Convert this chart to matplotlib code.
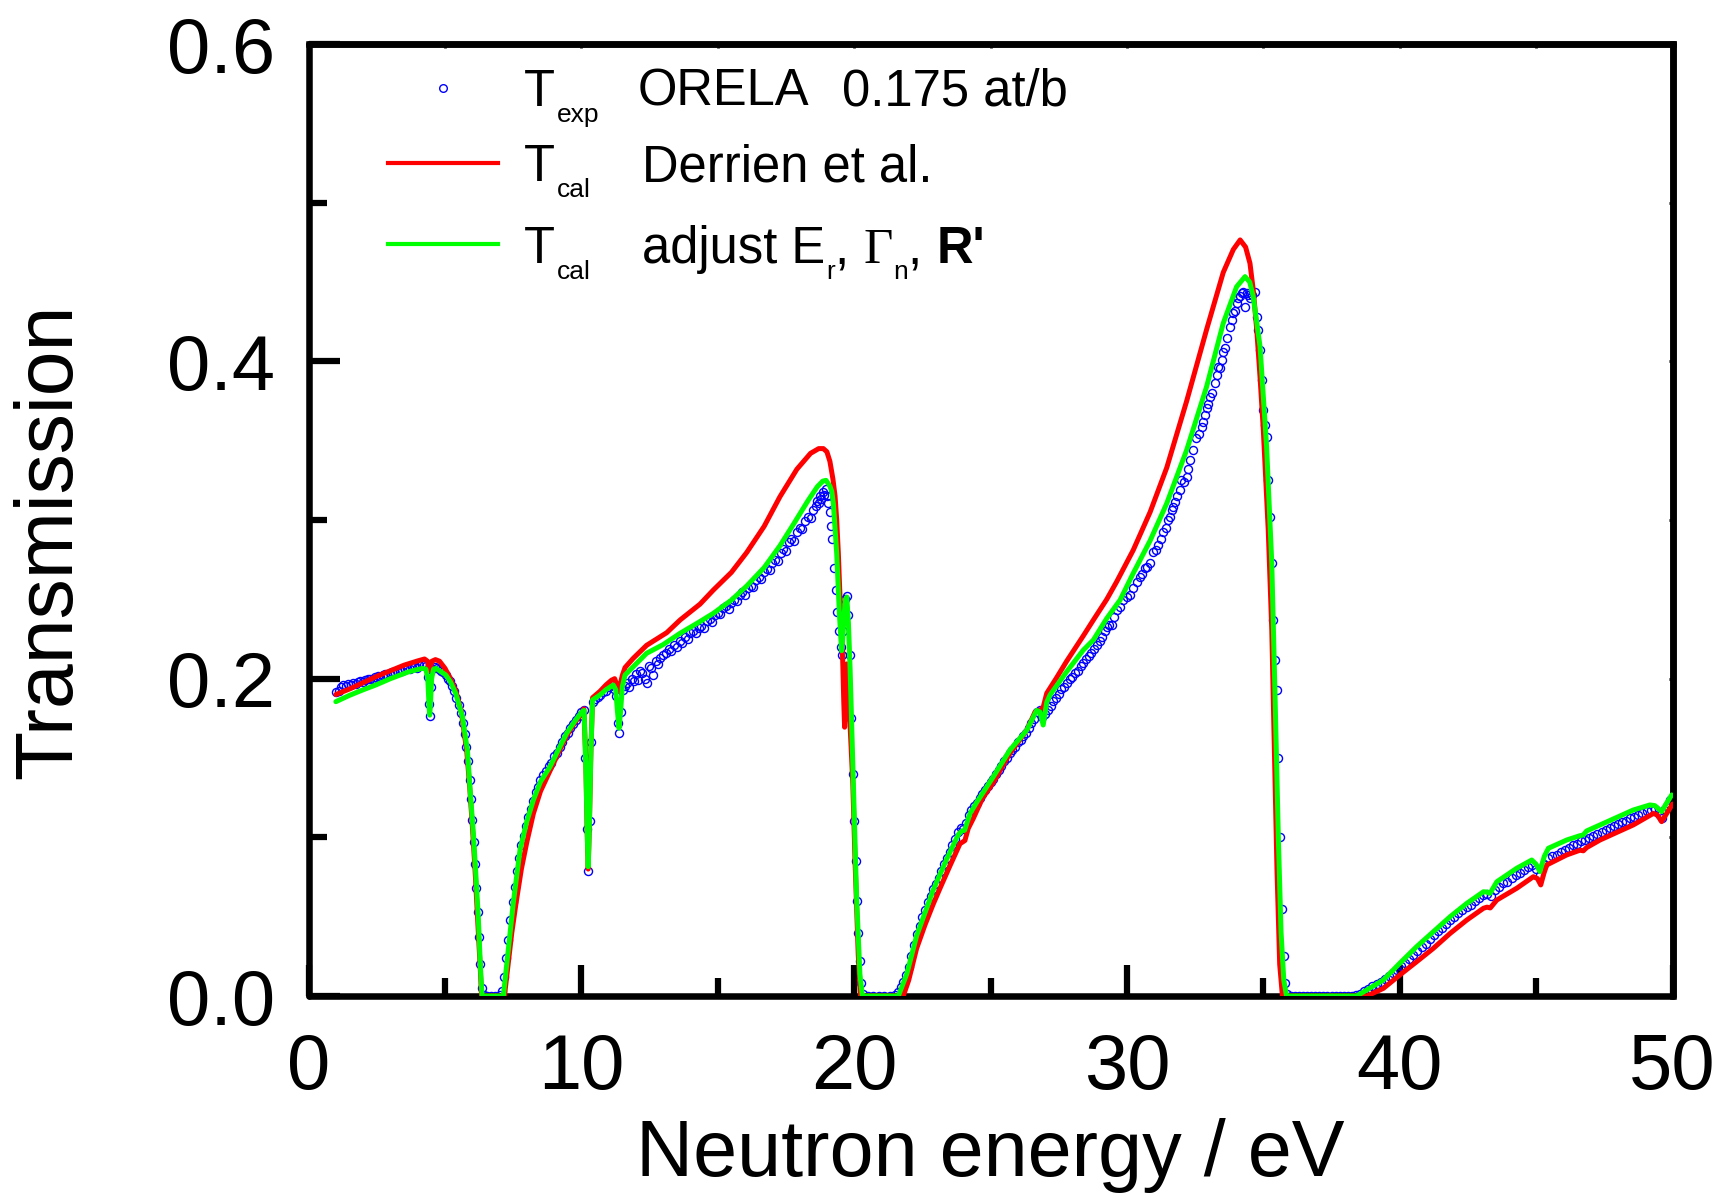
import numpy as np
import matplotlib
matplotlib.use("Agg")
import matplotlib.pyplot as plt
from matplotlib.lines import Line2D
from matplotlib.ticker import MultipleLocator

plt.rcParams["font.family"] = ["Liberation Sans", "DejaVu Sans"]

# ── data ──────────────────────────────────────────────────────────────────────
# T_cal, Derrien et al. (red)
derrien = [
    (1.0, 0.1900), (1.5, 0.1935), (2.0, 0.1975), (2.5, 0.2015), (3.0, 0.2050),
    (3.5, 0.2085), (4.0, 0.2112), (4.25, 0.2124), (4.36, 0.2110), (4.42, 0.2050),
    (4.46, 0.2070), (4.52, 0.2110), (4.65, 0.2120), (4.8, 0.2110), (5.0, 0.2065),
    (5.2, 0.2000), (5.4, 0.1920), (5.6, 0.1790), (5.8, 0.1540), (5.9, 0.1330),
    (6.0, 0.1080), (6.1, 0.0800), (6.2, 0.0480), (6.3, 0.0150), (6.34, 0.0),
    (7.18, 0.0), (7.3, 0.0180), (7.45, 0.0400), (7.6, 0.0580), (7.8, 0.0800),
    (8.0, 0.0970), (8.24, 0.1150), (8.5, 0.1290), (8.85, 0.1420), (9.15, 0.1530),
    (9.46, 0.1640), (9.75, 0.1720), (10.0, 0.1780), (10.09, 0.1810), (10.16, 0.1500),
    (10.21, 0.1050), (10.25, 0.0800), (10.29, 0.1050), (10.35, 0.1550), (10.41, 0.1880),
    (10.68, 0.1920), (10.9, 0.1960), (11.1, 0.1990), (11.22, 0.2000), (11.3, 0.1960),
    (11.36, 0.1920), (11.42, 0.1960), (11.5, 0.2020), (11.6, 0.2070), (11.9, 0.2128),
    (12.39, 0.2210), (13.13, 0.2290), (13.62, 0.2370), (14.35, 0.2470), (14.84, 0.2559),
    (15.5, 0.2670), (16.06, 0.2795), (16.7, 0.2960), (17.28, 0.3147), (17.9, 0.3320),
    (18.4, 0.3420), (18.7, 0.3450), (18.87, 0.3450), (19.0, 0.3430), (19.11, 0.3370),
    (19.22, 0.3260), (19.30, 0.3150), (19.36, 0.3000), (19.42, 0.2790), (19.5, 0.2430),
    (19.58, 0.2116), (19.62, 0.1850), (19.65, 0.1694), (19.69, 0.1900), (19.73, 0.2093),
    (19.79, 0.1950), (19.85, 0.1706), (19.95, 0.1344), (20.03, 0.0862), (20.1, 0.0500),
    (20.15, 0.0260), (20.23, 0.0), (21.8, 0.0), (22.0, 0.0100), (22.29, 0.0300),
    (22.6, 0.0450), (22.9, 0.0580), (23.15, 0.0680), (23.51, 0.0820), (23.88, 0.0960),
    (24.06, 0.0980), (24.18, 0.1055), (24.37, 0.1120), (24.7, 0.1245), (25.1, 0.1345),
    (25.71, 0.1530), (26.33, 0.1676), (26.63, 0.1790), (26.81, 0.1800), (26.93, 0.1820),
    (27.06, 0.1908), (27.4, 0.2000), (27.79, 0.2110), (28.4, 0.2270), (28.77, 0.2370),
    (29.26, 0.2500), (29.62, 0.2610), (30.23, 0.2810), (30.85, 0.3050), (31.46, 0.3330),
    (32.19, 0.3750), (32.92, 0.4200), (33.53, 0.4560), (33.9, 0.4705), (34.15, 0.4765),
    (34.35, 0.4720), (34.51, 0.4618), (34.63, 0.4450), (34.76, 0.4197), (34.88, 0.3900),
    (35.0, 0.3567), (35.18, 0.2937), (35.31, 0.2307), (35.40, 0.1600), (35.50, 0.0800),
    (35.60, 0.0200), (35.70, 0.0), (38.8, 0.0), (39.4, 0.0048), (40.0, 0.0132),
    (40.62, 0.0216), (41.23, 0.0300), (41.85, 0.0395), (42.46, 0.0479), (43.07, 0.0553),
    (43.2, 0.0560), (43.32, 0.0555), (43.56, 0.0605), (44.29, 0.0679), (44.9, 0.0752),
    (45.05, 0.0740), (45.17, 0.0700), (45.28, 0.0770), (45.39, 0.0826), (46.12, 0.0889),
    (46.61, 0.0919), (46.73, 0.0915), (46.85, 0.0935), (47.34, 0.0983), (48.56, 0.1078),
    (49.3, 0.1151), (49.45, 0.1140), (49.6, 0.1099), (49.75, 0.1140), (50.0, 0.1210),
]

# T_cal, adjusted E_r, Gamma_n, R' (green)
adjusted = [
    (1.0, 0.1855), (1.5, 0.1895), (2.0, 0.1930), (2.46, 0.1960), (3.0, 0.2000),
    (3.68, 0.2044), (4.17, 0.2065), (4.3, 0.2060), (4.37, 0.2000), (4.41, 0.1850),
    (4.44, 0.1770), (4.47, 0.1850), (4.51, 0.2000), (4.58, 0.2060), (4.67, 0.2065),
    (5.03, 0.2023), (5.2, 0.1980), (5.39, 0.1908), (5.64, 0.1760), (5.82, 0.1550),
    (5.94, 0.1256), (6.04, 0.1026), (6.13, 0.0770), (6.22, 0.0500), (6.30, 0.0180),
    (6.36, 0.0), (7.14, 0.0), (7.32, 0.0290), (7.5, 0.0580), (7.75, 0.0920),
    (8.0, 0.1100), (8.24, 0.1235), (8.5, 0.1350), (8.85, 0.1445), (9.15, 0.1550),
    (9.46, 0.1656), (9.75, 0.1730), (10.01, 0.1790), (10.1, 0.1800), (10.17, 0.1400),
    (10.21, 0.1050), (10.25, 0.0815), (10.29, 0.1050), (10.35, 0.1550), (10.41, 0.1866),
    (10.68, 0.1897), (10.9, 0.1930), (11.17, 0.1960), (11.26, 0.1930), (11.32, 0.1800),
    (11.38, 0.1687), (11.44, 0.1800), (11.5, 0.1950), (11.6, 0.2023), (11.9, 0.2075),
    (12.39, 0.2160), (13.0, 0.2215), (13.62, 0.2286), (14.3, 0.2355), (14.84, 0.2412),
    (15.5, 0.2495), (16.06, 0.2584), (16.7, 0.2700), (17.28, 0.2838), (17.8, 0.2980),
    (18.3, 0.3120), (18.65, 0.3210), (18.85, 0.3245), (18.97, 0.3250), (19.11, 0.3214),
    (19.18, 0.3180), (19.24, 0.3100), (19.30, 0.2950), (19.36, 0.2790), (19.46, 0.2406),
    (19.54, 0.2176), (19.58, 0.2250), (19.63, 0.2400), (19.68, 0.2500), (19.73, 0.2514),
    (19.79, 0.2350), (19.85, 0.2068), (19.97, 0.1344), (20.09, 0.0620), (20.21, 0.0139),
    (20.3, 0.0), (21.62, 0.0), (21.93, 0.0139), (22.29, 0.0379), (22.9, 0.0669),
    (23.39, 0.0862), (23.82, 0.1018), (23.95, 0.1040), (24.05, 0.1045), (24.25, 0.1151),
    (24.49, 0.1220), (25.1, 0.1382), (25.71, 0.1550), (26.33, 0.1676), (26.69, 0.1800),
    (26.81, 0.1790), (26.93, 0.1708), (27.06, 0.1851), (27.18, 0.1897), (27.79, 0.2044),
    (28.4, 0.2180), (28.77, 0.2244), (29.26, 0.2380), (29.75, 0.2496), (30.23, 0.2664),
    (30.85, 0.2870), (31.46, 0.3105), (32.19, 0.3441), (32.92, 0.3840), (33.53, 0.4240),
    (34.02, 0.4470), (34.33, 0.4534), (34.5, 0.4500), (34.63, 0.4408), (34.88, 0.4092),
    (35.12, 0.3462), (35.31, 0.2727), (35.43, 0.1887), (35.55, 0.1000), (35.65, 0.0400),
    (35.75, 0.0100), (35.85, 0.0), (38.42, 0.0), (39.4, 0.0101), (40.0, 0.0206),
    (40.62, 0.0311), (41.23, 0.0405), (41.85, 0.0500), (42.46, 0.0584), (43.07, 0.0657),
    (43.2, 0.0655), (43.31, 0.0647), (43.56, 0.0720), (44.29, 0.0805), (44.84, 0.0857),
    (45.0, 0.0830), (45.14, 0.0784), (45.3, 0.0880), (45.45, 0.0931), (46.12, 0.0983),
    (46.6, 0.1010), (46.73, 0.1015), (46.85, 0.1040), (47.34, 0.1078), (48.56, 0.1172),
    (49.17, 0.1204), (49.35, 0.1200), (49.6, 0.1162), (49.8, 0.1220), (49.97, 0.1267),
]

# T_exp, ORELA 0.175 at/b (blue circles)
orela = [
    (1.02, 0.1915), (1.10, 0.1925), (1.18, 0.1945), (1.27, 0.1960), (1.36, 0.1955),
    (1.45, 0.1965), (1.54, 0.1960), (1.63, 0.1972), (1.72, 0.1968), (1.81, 0.1978),
    (1.90, 0.1985), (1.99, 0.1980), (2.08, 0.1992), (2.17, 0.1995), (2.26, 0.2001),
    (2.35, 0.1996), (2.44, 0.2008), (2.53, 0.2015), (2.62, 0.2010), (2.71, 0.2022),
    (2.80, 0.2028), (2.89, 0.2021), (2.98, 0.2035), (3.07, 0.2040), (3.16, 0.2036),
    (3.25, 0.2048), (3.34, 0.2052), (3.43, 0.2047), (3.52, 0.2060), (3.61, 0.2066),
    (3.70, 0.2058), (3.79, 0.2072), (3.88, 0.2078), (3.97, 0.2070), (4.06, 0.2083),
    (4.15, 0.2090), (4.24, 0.2085), (4.32, 0.2078), (4.38, 0.2010), (4.42, 0.1840),
    (4.45, 0.1765), (4.49, 0.1950), (4.54, 0.2060), (4.62, 0.2075), (4.70, 0.2068),
    (4.78, 0.2060), (4.86, 0.2048), (4.94, 0.2040), (5.02, 0.2025), (5.10, 0.2000),
    (5.18, 0.1985), (5.26, 0.1955), (5.34, 0.1925), (5.42, 0.1880), (5.50, 0.1835),
    (5.58, 0.1785), (5.65, 0.1720), (5.72, 0.1650), (5.78, 0.1570), (5.84, 0.1480),
    (5.90, 0.1360), (5.95, 0.1240), (6.00, 0.1110), (6.05, 0.0970), (6.10, 0.0830),
    (6.15, 0.0680), (6.20, 0.0530), (6.25, 0.0370), (6.30, 0.0200), (6.35, 0.0050),
    (6.42, 0.0005), (6.55, 0.0), (6.70, 0.0), (6.85, 0.0), (7.00, 0.0005),
    (7.10, 0.0030), (7.18, 0.0120), (7.25, 0.0240), (7.32, 0.0350), (7.40, 0.0480),
    (7.48, 0.0590), (7.56, 0.0690), (7.64, 0.0790), (7.72, 0.0870), (7.80, 0.0950),
    (7.88, 0.1010), (7.96, 0.1070), (8.05, 0.1130), (8.14, 0.1180), (8.23, 0.1230),
    (8.32, 0.1285), (8.41, 0.1320), (8.50, 0.1360), (8.60, 0.1390), (8.70, 0.1415),
    (8.80, 0.1450), (8.90, 0.1470), (9.00, 0.1510), (9.10, 0.1530), (9.20, 0.1570),
    (9.30, 0.1600), (9.40, 0.1640), (9.50, 0.1660), (9.60, 0.1690), (9.70, 0.1715),
    (9.80, 0.1740), (9.90, 0.1765), (10.00, 0.1790), (10.08, 0.1805), (10.15, 0.1500),
    (10.20, 0.1050), (10.25, 0.0790), (10.30, 0.1100), (10.36, 0.1600), (10.42, 0.1850),
    (10.50, 0.1875), (10.60, 0.1885), (10.70, 0.1895), (10.80, 0.1915), (10.90, 0.1920),
    (11.00, 0.1945), (11.10, 0.1960), (11.20, 0.1935), (11.28, 0.1890), (11.34, 0.1720),
    (11.38, 0.1655), (11.44, 0.1790), (11.52, 0.1930), (11.60, 0.1955), (11.68, 0.1975),
    (11.76, 0.1945), (11.84, 0.2000), (11.92, 0.1985), (12.00, 0.2030), (12.08, 0.1990),
    (12.16, 0.2050), (12.24, 0.2035), (12.32, 0.2000), (12.40, 0.1975), (12.48, 0.2080),
    (12.56, 0.2065), (12.64, 0.2020), (12.72, 0.2110), (12.80, 0.2095), (12.90, 0.2130),
    (13.00, 0.2150), (13.10, 0.2160), (13.20, 0.2185), (13.30, 0.2175), (13.40, 0.2210),
    (13.50, 0.2200), (13.60, 0.2235), (13.70, 0.2225), (13.80, 0.2260), (13.90, 0.2250),
    (14.00, 0.2285), (14.10, 0.2300), (14.20, 0.2290), (14.30, 0.2320), (14.40, 0.2335),
    (14.50, 0.2320), (14.60, 0.2365), (14.70, 0.2375), (14.80, 0.2360), (14.90, 0.2400),
    (15.00, 0.2415), (15.10, 0.2405), (15.20, 0.2445), (15.30, 0.2455), (15.40, 0.2440),
    (15.50, 0.2480), (15.60, 0.2495), (15.70, 0.2490), (15.80, 0.2530), (15.90, 0.2545),
    (16.00, 0.2530), (16.10, 0.2570), (16.20, 0.2585), (16.30, 0.2580), (16.40, 0.2620),
    (16.50, 0.2640), (16.60, 0.2630), (16.70, 0.2670), (16.80, 0.2690), (16.90, 0.2685),
    (17.00, 0.2730), (17.10, 0.2750), (17.20, 0.2740), (17.30, 0.2790), (17.40, 0.2815),
    (17.50, 0.2805), (17.60, 0.2860), (17.70, 0.2880), (17.80, 0.2870), (17.90, 0.2925),
    (18.00, 0.2950), (18.10, 0.2945), (18.20, 0.2995), (18.30, 0.3020), (18.40, 0.3015),
    (18.50, 0.3065), (18.60, 0.3090), (18.65, 0.3120), (18.70, 0.3105), (18.75, 0.3150),
    (18.80, 0.3130), (18.85, 0.3175), (18.90, 0.3160), (18.95, 0.3195), (19.00, 0.3150),
    (19.05, 0.3110), (19.10, 0.3050), (19.15, 0.2960), (19.20, 0.2880), (19.26, 0.2700),
    (19.32, 0.2560), (19.38, 0.2420), (19.44, 0.2300), (19.50, 0.2200), (19.55, 0.2150),
    (19.60, 0.2300), (19.66, 0.2500), (19.72, 0.2520), (19.78, 0.2400), (19.84, 0.2150),
    (19.90, 0.1750), (19.95, 0.1400), (20.00, 0.1100), (20.05, 0.0850), (20.10, 0.0600),
    (20.15, 0.0400), (20.20, 0.0220), (20.26, 0.0080), (20.34, 0.0010), (20.50, 0.0),
    (20.70, 0.0), (20.90, 0.0), (21.10, 0.0), (21.30, 0.0), (21.50, 0.0005),
    (21.60, 0.0025), (21.70, 0.0055), (21.80, 0.0090), (21.90, 0.0130), (22.00, 0.0185),
    (22.10, 0.0250), (22.20, 0.0320), (22.30, 0.0390), (22.40, 0.0440), (22.50, 0.0495),
    (22.60, 0.0540), (22.70, 0.0590), (22.80, 0.0630), (22.90, 0.0675), (23.00, 0.0705),
    (23.10, 0.0745), (23.20, 0.0790), (23.30, 0.0830), (23.40, 0.0870), (23.50, 0.0910),
    (23.60, 0.0950), (23.70, 0.0990), (23.80, 0.1035), (23.90, 0.1060), (24.00, 0.1050),
    (24.10, 0.1090), (24.20, 0.1140), (24.30, 0.1170), (24.40, 0.1195), (24.50, 0.1215),
    (24.60, 0.1250), (24.70, 0.1270), (24.80, 0.1300), (24.90, 0.1325), (25.00, 0.1350),
    (25.10, 0.1370), (25.20, 0.1400), (25.30, 0.1425), (25.40, 0.1450), (25.50, 0.1480),
    (25.60, 0.1500), (25.70, 0.1530), (25.80, 0.1550), (25.90, 0.1570), (26.00, 0.1600),
    (26.10, 0.1615), (26.20, 0.1640), (26.30, 0.1660), (26.40, 0.1690), (26.50, 0.1720),
    (26.60, 0.1745), (26.70, 0.1790), (26.80, 0.1805), (26.90, 0.1760), (27.00, 0.1780),
    (27.10, 0.1800), (27.20, 0.1830), (27.30, 0.1860), (27.40, 0.1880), (27.50, 0.1905),
    (27.60, 0.1935), (27.70, 0.1950), (27.80, 0.1975), (27.90, 0.1995), (28.00, 0.2010),
    (28.10, 0.2035), (28.20, 0.2050), (28.30, 0.2080), (28.40, 0.2100), (28.50, 0.2125),
    (28.60, 0.2140), (28.70, 0.2160), (28.80, 0.2185), (28.90, 0.2210), (29.00, 0.2240),
    (29.10, 0.2265), (29.20, 0.2300), (29.26, 0.2328), (29.35, 0.2340), (29.44, 0.2339),
    (29.53, 0.2390), (29.62, 0.2433), (29.75, 0.2450), (29.87, 0.2496), (29.99, 0.2517),
    (30.11, 0.2530), (30.23, 0.2569), (30.36, 0.2610), (30.48, 0.2643), (30.57, 0.2660),
    (30.66, 0.2695), (30.75, 0.2705), (30.84, 0.2727), (30.97, 0.2800), (31.06, 0.2810),
    (31.15, 0.2842), (31.24, 0.2880), (31.33, 0.2926), (31.42, 0.2950), (31.52, 0.3000),
    (31.58, 0.3020), (31.64, 0.3063), (31.70, 0.3080), (31.76, 0.3116), (31.85, 0.3150),
    (31.94, 0.3189), (32.00, 0.3252), (32.10, 0.3240), (32.19, 0.3273), (32.25, 0.3320),
    (32.31, 0.3378), (32.43, 0.3440), (32.55, 0.3515), (32.65, 0.3540), (32.74, 0.3588),
    (32.80, 0.3620), (32.86, 0.3660), (32.92, 0.3704), (32.98, 0.3730), (33.04, 0.3777),
    (33.13, 0.3800), (33.23, 0.3861), (33.29, 0.3914), (33.35, 0.3966), (33.41, 0.3960),
    (33.47, 0.4008), (33.53, 0.4060), (33.59, 0.4082), (33.68, 0.4150), (33.78, 0.4218),
    (33.84, 0.4260), (33.90, 0.4303), (33.96, 0.4320), (34.02, 0.4365), (34.08, 0.4397),
    (34.14, 0.4410), (34.20, 0.4429), (34.27, 0.4440), (34.33, 0.4345), (34.39, 0.4429),
    (34.45, 0.4420), (34.51, 0.4397), (34.60, 0.4420), (34.70, 0.4440), (34.76, 0.4282),
    (34.82, 0.4200), (34.88, 0.4071), (34.94, 0.3882), (35.00, 0.3693), (35.06, 0.3600),
    (35.12, 0.3525), (35.18, 0.3252), (35.24, 0.3021), (35.31, 0.2727), (35.37, 0.2370),
    (35.43, 0.2118), (35.49, 0.1929), (35.55, 0.1500), (35.62, 0.1000), (35.68, 0.0550),
    (35.74, 0.0250), (35.80, 0.0080), (35.88, 0.0010), (36.00, 0.0), (36.15, 0.0),
    (36.30, 0.0), (36.45, 0.0), (36.60, 0.0), (36.75, 0.0), (36.90, 0.0),
    (37.05, 0.0), (37.20, 0.0), (37.35, 0.0), (37.50, 0.0), (37.65, 0.0),
    (37.80, 0.0), (37.95, 0.0), (38.10, 0.0), (38.25, 0.0), (38.40, 0.0005),
    (38.55, 0.0015), (38.70, 0.0030), (38.85, 0.0045), (39.00, 0.0060), (39.15, 0.0075),
    (39.30, 0.0090), (39.45, 0.0105), (39.60, 0.0125), (39.75, 0.0145), (39.90, 0.0165),
    (40.05, 0.0190), (40.20, 0.0210), (40.35, 0.0235), (40.50, 0.0260), (40.65, 0.0285),
    (40.80, 0.0310), (40.95, 0.0330), (41.10, 0.0360), (41.25, 0.0385), (41.40, 0.0410),
    (41.55, 0.0430), (41.70, 0.0455), (41.85, 0.0480), (42.00, 0.0495), (42.15, 0.0520),
    (42.30, 0.0540), (42.45, 0.0560), (42.60, 0.0575), (42.75, 0.0600), (42.90, 0.0615),
    (43.05, 0.0635), (43.20, 0.0640), (43.35, 0.0630), (43.50, 0.0670), (43.65, 0.0690),
    (43.80, 0.0710), (43.95, 0.0720), (44.10, 0.0745), (44.25, 0.0760), (44.40, 0.0775),
    (44.55, 0.0795), (44.70, 0.0810), (44.85, 0.0825), (45.00, 0.0800), (45.15, 0.0760),
    (45.30, 0.0830), (45.45, 0.0870), (45.60, 0.0880), (45.75, 0.0890), (45.90, 0.0905),
    (46.05, 0.0920), (46.20, 0.0930), (46.35, 0.0950), (46.50, 0.0960), (46.65, 0.0975),
    (46.80, 0.0985), (46.95, 0.0995), (47.10, 0.1010), (47.25, 0.1020), (47.40, 0.1035),
    (47.55, 0.1045), (47.70, 0.1060), (47.85, 0.1070), (48.00, 0.1085), (48.15, 0.1095),
    (48.30, 0.1105), (48.45, 0.1120), (48.60, 0.1130), (48.75, 0.1140), (48.90, 0.1155),
    (49.05, 0.1165), (49.20, 0.1175), (49.35, 0.1180), (49.50, 0.1150), (49.60, 0.1125),
    (49.70, 0.1170), (49.80, 0.1200), (49.90, 0.1235), (50.00, 0.1250),
]

x_ticks = [0, 10, 20, 30, 40, 50]
y_ticks = [0.0, 0.2, 0.4, 0.6]
y_tick_labels = ["0.0", "0.2", "0.4", "0.6"]

# ── figure ───────────────────────────────────────────────────────────────────
W, H = 1722, 1196
fig = plt.figure(figsize=(W / 100, H / 100), dpi=100)
ax = fig.add_axes([308.6 / W, 1 - 996 / H, (1672.5 - 308.6) / W, (996 - 44) / H])

exp = np.array(orela)
red = np.array(derrien)
grn = np.array(adjusted)

ax.plot(exp[:, 0], exp[:, 1], ls="none", marker="o", ms=5.8, mfc="none",
        mec="#0000ff", mew=1.0, zorder=2)
ax.plot(red[:, 0], red[:, 1], color="#ff0000", lw=3.6, zorder=3,
        solid_joinstyle="round", solid_capstyle="round")
ax.plot(grn[:, 0], grn[:, 1], color="#00ff00", lw=3.6, zorder=4,
        solid_joinstyle="round", solid_capstyle="round")

ax.set_xlim(0, 50)
ax.set_ylim(0, 0.6)
ax.set_xticks(x_ticks)
ax.set_yticks(y_ticks)
ax.set_yticklabels(y_tick_labels)
ax.xaxis.set_minor_locator(MultipleLocator(5))
ax.yaxis.set_minor_locator(MultipleLocator(0.1))

for sp in ax.spines.values():
    sp.set_linewidth(4.7)
    sp.set_capstyle("round")
ax.tick_params(which="both", direction="in", width=4.5, top=False, right=False)
ax.tick_params(which="major", length=22)
ax.tick_params(which="minor", length=13)
ax.tick_params(axis="x", which="major", labelsize=56, pad=26)
ax.tick_params(axis="y", which="major", labelsize=56, pad=24)

# tiny ticks on top / right
sec_x = ax.secondary_xaxis("top")
sec_x.set_xticks(np.arange(5, 50, 5))
sec_x.tick_params(direction="in", length=3, width=2, labeltop=False)
sec_x.spines["top"].set_linewidth(4.7)
sec_y = ax.secondary_yaxis("right")
sec_y.set_yticks(np.arange(0.1, 0.6, 0.1))
sec_y.tick_params(direction="in", length=3, width=2, labelright=False)
sec_y.spines["right"].set_linewidth(4.7)

fig.text(990.5 / W, 1 - 1176 / H, "Neutron energy / eV", fontsize=57,
         ha="center", va="baseline")
fig.text(50 / W, 1 - 541 / H, "Transmission", fontsize=58, rotation=90,
         ha="center", va="center")

# ── hand-built legend ────────────────────────────────────────────────────────
renderer = fig.canvas.get_renderer()


def put(x, y, s, size, **kw):
    t = fig.text(x / W, 1 - y / H, s, fontsize=size, ha="left", va="baseline", **kw)
    return x + t.get_window_extent(renderer=renderer).width


LEG = 36.5
SUB = 19

fig.add_artist(Line2D([443 / W], [1 - 88 / H], ls="none", marker="o", ms=5.5,
                      mfc="none", mec="#0000ff", mew=1.0))
fig.add_artist(Line2D([388 / W, 498 / W], [1 - 163 / H] * 2, color="#ff0000", lw=3))
fig.add_artist(Line2D([388 / W, 498 / W], [1 - 244 / H] * 2, color="#00ff00", lw=3))

# row 1
x = put(524, 106, "T", LEG)
put(x + 2, 122, "exp", SUB)
put(638, 106, "ORELA", LEG)
put(842, 106, "0.175 at/b", LEG)
# row 2
x = put(524, 181, "T", LEG)
put(x + 2, 197, "cal", SUB)
put(642, 181, "Derrien et al.", LEG)
# row 3
x = put(524, 263, "T", LEG)
put(x + 2, 279, "cal", SUB)
x = put(642, 263, "adjust E", LEG)
x = put(x + 1, 279, "r", SUB)
x = put(x, 263, ", ", LEG)
x = put(x, 263, "\u0393", LEG, family=["Liberation Serif", "DejaVu Serif"])
x = put(x + 1, 279, "n", SUB)
x = put(x, 263, ", ", LEG)
put(x, 263, "R'", LEG, fontweight="bold")

fig.savefig("out.png", dpi=100)
plt.close(fig)
